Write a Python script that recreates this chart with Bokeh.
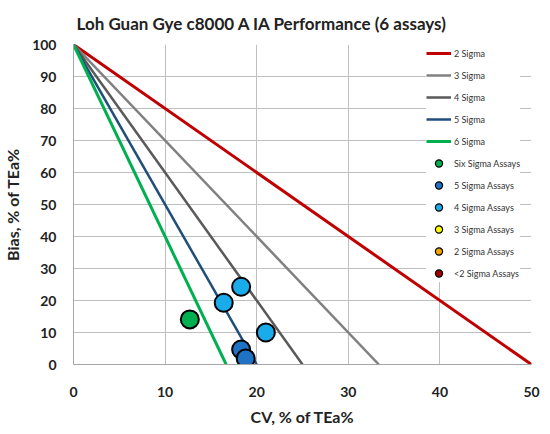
import bokeh.plotting as bk
from bokeh.models import Legend, LegendItem, FixedTicker, Range1d
from bokeh.embed import file_html
from bokeh.resources import INLINE

# sigma lines: each runs from (0, 100) down to (100/sigma, 0)
sigma_levels = [2, 3, 4, 5, 6]
sigma_names = ["2 Sigma", "3 Sigma", "4 Sigma", "5 Sigma", "6 Sigma"]
sigma_colors = ["#C00000", "#808080", "#595959", "#1F4E79", "#00B050"]
sigma_widths = [3, 2.5, 2.5, 2.5, 3]

# assays (CV % of TEa, bias % of TEa)
assay_cv = [12.7, 18.3, 16.4, 21.0, 18.3, 18.8]
assay_bias = [14.1, 24.3, 19.3, 10.0, 4.7, 1.9]
assay_class = ["6", "4", "4", "4", "5", "5"]

class_keys = ["6", "5", "4", "3", "2", "<2"]
class_names = ["Six Sigma Assays", "5 Sigma Assays", "4 Sigma Assays",
               "3 Sigma Assays", "2 Sigma Assays", "<2 Sigma Assays"]
class_colors = ["#00B050", "#1F72C4", "#1AABEB", "#FFFF00", "#F0A500", "#A00000"]

x_ticks = [0, 10, 20, 30, 40, 50]
y_ticks = [0, 10, 20, 30, 40, 50, 60, 70, 80, 90, 100]

FONT = "Lato"
NAN = float("nan")

p = bk.figure(frame_width=458, frame_height=320, output_backend="svg",
              toolbar_location=None,
              x_range=Range1d(0, 50), y_range=Range1d(0, 100),
              min_border_left=64, min_border_right=12,
              min_border_top=38, min_border_bottom=56)

p.title.text = "Loh Guan Gye c8000 A IA Performance (6 assays)"
p.title.text_font = FONT
p.title.text_font_size = "17px"
p.title.text_font_style = "bold"
p.title.text_color = "#222222"
p.title.align = "left"
p.title.offset = 3
p.title.standoff = 21

p.outline_line_color = None
p.background_fill_color = "white"

for ax in (p.xaxis, p.yaxis):
    ax.major_tick_line_color = None
    ax.minor_tick_line_color = None
    ax.axis_line_color = "#A6A6A6"
    ax.major_label_text_font = FONT
    ax.major_label_text_font_size = "14px"
    ax.major_label_text_font_style = "bold"
    ax.major_label_text_color = "#222222"
    ax.axis_label_text_font = FONT
    ax.axis_label_text_font_size = "16px"
    ax.axis_label_text_font_style = "bold"
    ax.axis_label_text_color = "#222222"
    ax.major_tick_out = 0

p.xaxis.ticker = FixedTicker(ticks=x_ticks)
p.yaxis.ticker = FixedTicker(ticks=y_ticks)
p.xaxis.axis_label = "CV, % of TEa%"
p.yaxis.axis_label = "Bias, % of TEa%"
p.xaxis.major_label_standoff = 22
p.yaxis.major_label_standoff = 17
p.xaxis.axis_label_standoff = 7
p.yaxis.axis_label_standoff = 7

p.grid.grid_line_color = "#BFBFBF"
p.grid.grid_line_width = 1

items = []
for s, name, col, w in zip(sigma_levels, sigma_names, sigma_colors, sigma_widths):
    r = p.line([0, 100 / s], [100, 0], line_color=col, line_width=w)
    items.append(LegendItem(label=name, renderers=[r]))

for key, name, col in zip(class_keys, class_names, class_colors):
    xs = [x for x, c in zip(assay_cv, assay_class) if c == key]
    ys = [y for y, c in zip(assay_bias, assay_class) if c == key]
    if xs:
        p.scatter(xs, ys, size=18, fill_color=col, line_color="black", line_width=2)
    # small legend swatch (the legend marker is drawn by the legend itself)
    lr = p.scatter([NAN], [NAN], size=7, fill_color=col, line_color="black",
                   line_width=1.2)
    items.append(LegendItem(label=name, renderers=[lr]))

legend = Legend(items=items, location=(353, 82), orientation="vertical",
                background_fill_color="white", background_fill_alpha=1.0,
                border_line_color=None, padding=5, margin=0, spacing=4,
                glyph_width=25, glyph_height=18, label_height=18,
                label_standoff=3,
                label_text_font=FONT, label_text_font_size="9px",
                label_text_color="#333333")
p.add_layout(legend)

open("out.html", "w").write(file_html(p, INLINE))
